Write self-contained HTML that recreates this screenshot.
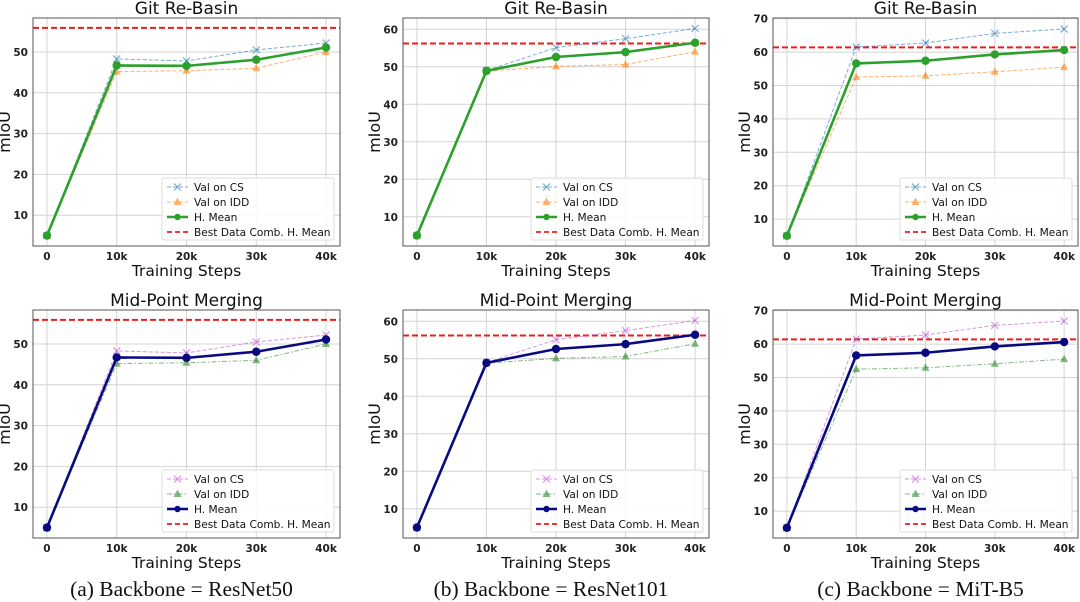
<!DOCTYPE html>
<html><head><meta charset="utf-8">
<style>
html,body{margin:0;padding:0;background:#fff;}
svg{display:block;}
text{font-family:"DejaVu Sans","Liberation Sans",sans-serif;}
.cap{font-family:"Liberation Serif",serif;font-size:21.5px;fill:#111;}
</style></head>
<body>
<svg id="fig" width="1080" height="602" viewBox="0 0 1080 602" xmlns="http://www.w3.org/2000/svg"></svg>
<script>
const steps = [0, 10, 20, 30, 40];
const xTickLabels = ["0", "10k", "20k", "30k", "40k"];
// (a) ResNet50
const csA = [5, 48.3, 47.8, 50.5, 52.2];
const iddA = [5, 45.2, 45.4, 46.0, 50.0];
const hmA = [5, 46.7, 46.6, 48.1, 51.1];
const bestA = 55.9;
const yTicksA = [10, 20, 30, 40, 50];
// (b) ResNet101
const csB = [5, 49.0, 55.1, 57.5, 60.2];
const iddB = [5, 48.8, 50.1, 50.6, 54.0];
const hmB = [5, 48.9, 52.6, 53.9, 56.4];
const bestB = 56.2;
const yTicksB = [10, 20, 30, 40, 50, 60];
// (c) MiT-B5
const csC = [5, 61.5, 62.7, 65.6, 66.9];
const iddC = [5, 52.5, 52.9, 54.1, 55.5];
const hmC = [5, 56.6, 57.4, 59.3, 60.6];
const bestC = 61.4;
const yTicksC = [10, 20, 30, 40, 50, 60, 70];
const captions = ["(a) Backbone = ResNet50", "(b) Backbone = ResNet101", "(c) Backbone = MiT-B5"];

const NS = "http://www.w3.org/2000/svg";
const svg = document.getElementById("fig");
function mk(tag, attrs, parent) {
  const e = document.createElementNS(NS, tag);
  for (const k in attrs) e.setAttribute(k, attrs[k]);
  (parent || svg).appendChild(e);
  return e;
}

const cols = [
  {x0: 33, x1: 340, ymin: 2.45, ymax: 58.33, cs: csA, idd: iddA, hm: hmA, best: bestA, ticks: yTicksA, key: "a"},
  {x0: 403, x1: 709, ymin: 2.2, ymax: 63.0, cs: csB, idd: iddB, hm: hmB, best: bestB, ticks: yTicksB, key: "b"},
  {x0: 773, x1: 1078, ymin: 1.95, ymax: 70.2, cs: csC, idd: iddC, hm: hmC, best: bestC, ticks: yTicksC, key: "c"}
];
const rows = [
  {y0: 18, y1: 246, title: "Git Re-Basin", csCol: "#1f77b4", iddCol: "#ff7f0e", hmCol: "#2ca02c", iddDash: "4,2", key: "rebasin"},
  {y0: 310, y1: 538, title: "Mid-Point Merging", csCol: "#b84fd8", iddCol: "#2e8b2e", hmCol: "#0a0a80", iddDash: "5,2,1.5,2", key: "midpoint"}
];

function marker(g, type, x, y, color) {
  let m;
  if (type === "x") {
    m = mk("path", {d: `M${x-3.5},${y-3.5}L${x+3.5},${y+3.5}M${x-3.5},${y+3.5}L${x+3.5},${y-3.5}`, stroke: color, "stroke-width": 1.2, fill: "none", opacity: 0.6}, g);
  } else if (type === "tri") {
    m = mk("path", {d: `M${x},${y-4.5}L${x+4},${y+3}L${x-4},${y+3}Z`, fill: color, opacity: 0.6}, g);
  } else {
    m = mk("circle", {cx: x, cy: y, r: 4.2, fill: color}, g);
  }
  return m;
}

cols.forEach((c, ci) => {
  rows.forEach((r, ri) => {
    const g = mk("g", {});
    
    
    const xs = v => c.x0 + (v - (-2)) / 44 * (c.x1 - c.x0);
    const ys = v => r.y1 - (v - c.ymin) / (c.ymax - c.ymin) * (r.y1 - r.y0);
    steps.forEach((s, i) => {
      mk("line", {x1: xs(s), x2: xs(s), y1: r.y0, y2: r.y1, stroke: "#d4d4d4", "stroke-width": 1}, g);
      const t = mk("text", {x: xs(s), y: r.y1 + 14, "font-size": 10.5, "font-weight": "bold", "text-anchor": "middle", fill: "#222"}, g);
      t.textContent = xTickLabels[i];
      
      
    });
    c.ticks.forEach(v => {
      mk("line", {x1: c.x0, x2: c.x1, y1: ys(v), y2: ys(v), stroke: "#d4d4d4", "stroke-width": 1}, g);
      const t = mk("text", {x: c.x0 - 5, y: ys(v) + 4, "font-size": 10.5, "font-weight": "bold", "text-anchor": "end", fill: "#222"}, g);
      t.textContent = v;
      
      
    });
    const frame = mk("rect", {x: c.x0, y: r.y0, width: c.x1 - c.x0, height: r.y1 - r.y0, fill: "none", stroke: "#555", "stroke-width": 1}, g);
    
    
    const tt = mk("text", {x: (c.x0 + c.x1) / 2, y: r.y0 - 4, "font-size": 17, "text-anchor": "middle", fill: "#111"}, g);
    tt.textContent = r.title;
    
    
    const xl = mk("text", {x: (c.x0 + c.x1) / 2, y: r.y1 + 30, "font-size": 15.5, "text-anchor": "middle", fill: "#111"}, g);
    xl.textContent = "Training Steps";
    
    
    const yx = c.x0 - 23, yy = (r.y0 + r.y1) / 2;
    const yl = mk("text", {x: yx, y: yy, "font-size": 16, "text-anchor": "middle", fill: "#111", transform: `rotate(-90 ${yx} ${yy})`}, g);
    yl.textContent = "mIoU";
    
    
    const bl = mk("line", {x1: c.x0, x2: c.x1, y1: ys(c.best), y2: ys(c.best), stroke: "#ee1c1c", "stroke-width": 2, "stroke-dasharray": "6,3"}, g);
    
    
    const pts = arr => arr.map((v, i) => xs(steps[i]) + "," + ys(v)).join(" ");
    const l1 = mk("polyline", {points: pts(c.cs), fill: "none", stroke: r.csCol, "stroke-width": 1, "stroke-dasharray": "4,2", opacity: 0.6}, g);
    
    
    c.cs.forEach((v, i) => marker(g, "x", xs(steps[i]), ys(v), r.csCol));
    const l2 = mk("polyline", {points: pts(c.idd), fill: "none", stroke: r.iddCol, "stroke-width": 1, "stroke-dasharray": r.iddDash, opacity: 0.6}, g);
    
    
    c.idd.forEach((v, i) => marker(g, "tri", xs(steps[i]), ys(v), r.iddCol));
    const l3 = mk("polyline", {points: pts(c.hm), fill: "none", stroke: r.hmCol, "stroke-width": 2.6}, g);
    
    
    c.hm.forEach((v, i) => marker(g, "o", xs(steps[i]), ys(v), r.hmCol));
    const lg = mk("g", {}, g);
    
    
    const lx = c.x1 - 178, ly = r.y1 - 68;
    mk("rect", {x: lx, y: ly, width: 172, height: 62, rx: 2, fill: "#fff", "fill-opacity": 0.85, stroke: "#ddd"}, lg);
    const items = [
      {name: "Val on CS", col: r.csCol, dash: "4,2", m: "x", w: 1, op: 0.6},
      {name: "Val on IDD", col: r.iddCol, dash: r.iddDash, m: "tri", w: 1, op: 0.6},
      {name: "H. Mean", col: r.hmCol, dash: "", m: "o", w: 2.6, op: 1},
      {name: "Best Data Comb. H. Mean", col: "#ee1c1c", dash: "5,3", m: null, w: 1.8, op: 1}
    ];
    items.forEach((it, k) => {
      const cy = ly + 9 + k * 15;
      const e = mk("g", {}, lg);
      
      
      const a = {x1: lx + 5, x2: lx + 26, y1: cy, y2: cy, stroke: it.col, "stroke-width": it.w, opacity: it.op};
      if (it.dash) a["stroke-dasharray"] = it.dash;
      mk("line", a, e);
      if (it.m) { const mm = marker(e, it.m, lx + 15.5, cy, it.col); if (it.m === "o") mm.setAttribute("r", 3.2); }
      const t = mk("text", {x: lx + 32, y: cy + 4, "font-size": 10.6, fill: "#111"}, e);
      t.textContent = it.name;
    });
  });
  const cap = mk("text", {x: (c.x0 + c.x1) / 2 - 5, y: 596, "text-anchor": "middle", class: "cap"});
  cap.textContent = captions[ci];
  
  
});
</script>
</body></html>
